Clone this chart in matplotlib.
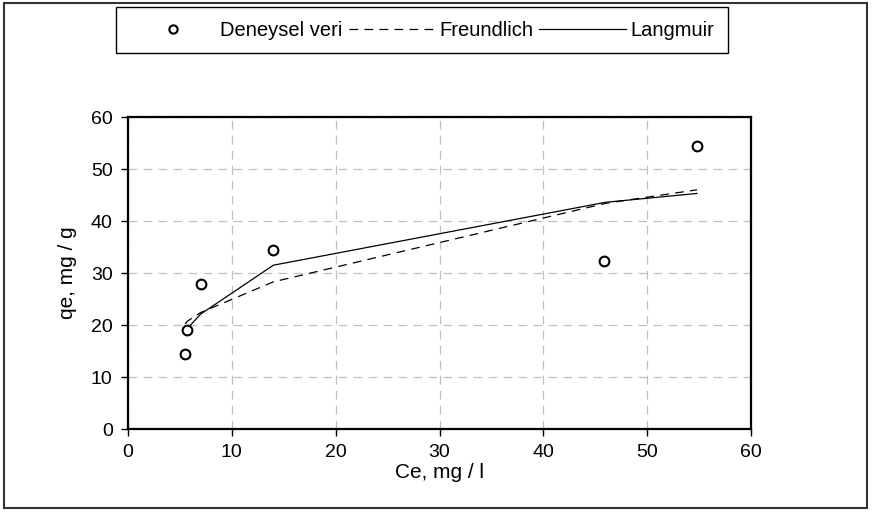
import matplotlib
matplotlib.use('Agg')
import matplotlib.pyplot as plt
from matplotlib.patches import Rectangle

plt.rcParams['font.family'] = ['Liberation Sans', 'DejaVu Sans']

# experimental data
ce_exp = [5.5, 5.7, 7.0, 14.0, 45.8, 54.8]
qe_exp = [14.4, 19.0, 27.8, 34.4, 32.4, 54.4]

# model curves (evaluated at the same Ce values)
ce_model = [5.5, 5.7, 7.0, 14.0, 46.0, 54.8]
qe_freundlich = [20.2, 20.7, 22.4, 28.3, 43.4, 46.0]
qe_langmuir = [18.7, 19.3, 22.1, 31.5, 43.6, 45.3]

W, H = 873, 512
fig = plt.figure(figsize=(W / 100, H / 100), dpi=100)

# outer chart border
fig.patches.append(Rectangle((4 / W, 4 / H), 863 / W, 505 / H, transform=fig.transFigure,
                             fill=False, edgecolor='#333333', linewidth=1.5))

ax = fig.add_axes([128 / W, (H - 429) / H, 623 / W, 312 / H])

ax.plot(ce_exp, qe_exp, linestyle='none', marker='o', markersize=7, markerfacecolor='white',
        markeredgecolor='black', markeredgewidth=1.5, label='Deneysel veri', zorder=4)
ax.plot(ce_model, qe_freundlich, color='black', linewidth=0.9, linestyle=(0, (7, 5)),
        label='Freundlich', zorder=3)
ax.plot(ce_model, qe_langmuir, color='black', linewidth=0.9, label='Langmuir', zorder=3)

ax.set_xlim(0, 60)
ax.set_ylim(0, 60)
ax.set_xticks(range(0, 61, 10))
ax.set_yticks(range(0, 61, 10))
ax.grid(True, color='#c0c0c0', linestyle=(0, (7, 5)), linewidth=0.9)
ax.set_axisbelow(True)
for side in ['left', 'bottom', 'top', 'right']:
    ax.spines[side].set_linewidth(1.6)
    ax.spines[side].set_color('black')
ax.tick_params(direction='out', length=5, width=1, labelsize=14, pad=6, colors='black')

ax.set_xlabel('Ce, mg / l', fontsize=15, labelpad=1)
ax.set_ylabel('qe, mg / g', fontsize=15, labelpad=10)

fig.legend(loc='upper left', bbox_to_anchor=(116 / W, 1 - 7 / H), ncol=3, fontsize=14.5,
           frameon=True, fancybox=False, edgecolor='black', framealpha=1,
           handlelength=4.3, handletextpad=0.2, columnspacing=0.3,
           borderpad=0.68, borderaxespad=0, markerscale=0.85)

fig.savefig('out.png', dpi=100)
